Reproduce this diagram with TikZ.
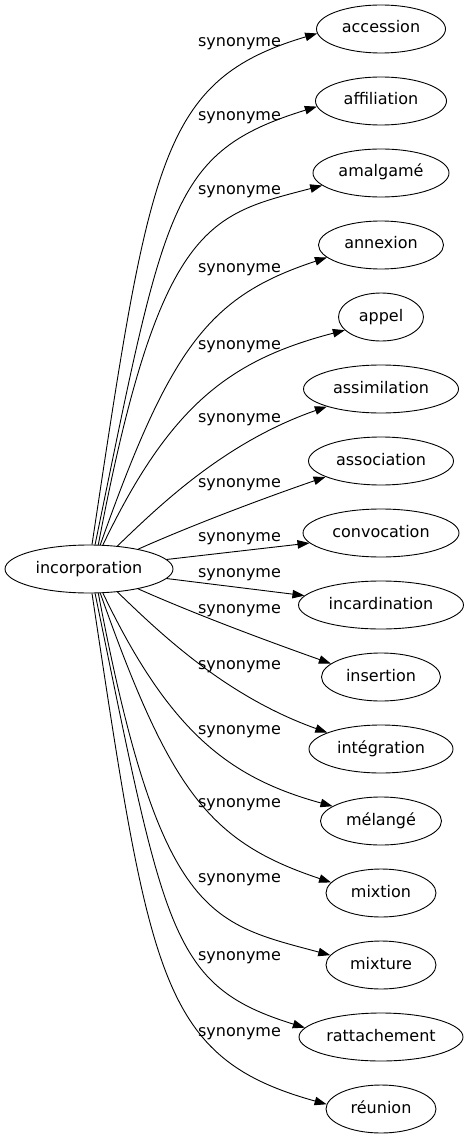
\documentclass[tikz,border=0pt]{standalone}
\usepackage{fontspec}
\setmainfont{DejaVu Sans}
\usetikzlibrary{arrows.meta,shapes.geometric}

\begin{document}
\begin{tikzpicture}[x=1pt,y=-1pt,>={Triangle[length=12pt,width=8.5pt]}]

%
% Styles
%
\tikzstyle{word} = [ellipse,draw,line width=0.9pt,inner xsep=0pt,inner ysep=0pt,minimum height=48pt,text height=11.5pt,text depth=3.5pt,font=\fontsize{16}{19}\selectfont]
\tikzstyle{rel} = [anchor=base,inner sep=0pt,font=\fontsize{16}{19}\selectfont]
\tikzstyle{link} = [->,line width=0.9pt]

\useasboundingbox (0,0) rectangle (469,1139);

\node[word,minimum width=168pt] (inc) at ( 89, 569) {incorporation};

\node[word,minimum width=129pt] (acc)    at (381,  29) {accession};
\node[word,minimum width=131pt] (aff)    at (381, 101) {affiliation};
\node[word,minimum width=136pt] (ama)    at (381, 173) {amalgamé};
\node[word,minimum width=125pt] (ann)    at (381, 245) {annexion};
\node[word,minimum width=85pt]  (app)    at (381, 317) {appel};
\node[word,minimum width=155pt] (ass)    at (381, 389) {assimilation};
\node[word,minimum width=145pt] (asso)   at (381, 461) {association};
\node[word,minimum width=156pt] (conv)   at (381, 533) {convocation};
\node[word,minimum width=165pt] (incard) at (381, 605) {incardination};
\node[word,minimum width=119pt] (ins)    at (381, 677) {insertion};
\node[word,minimum width=144pt] (integ)  at (381, 749) {intégration};
\node[word,minimum width=121pt] (mel)    at (381, 821) {mélangé};
\node[word,minimum width=110pt] (mixt)   at (381, 893) {mixtion};
\node[word,minimum width=110pt] (mixu)   at (381, 965) {mixture};
\node[word,minimum width=164pt] (ratt)   at (381,1037) {rattachement};
\node[word,minimum width=110pt] (reu)    at (381,1109) {réunion};

\node[rel] (s1)  at (239.5,  46.5) {synonyme};
\node[rel] (s2)  at (239.5, 120.5) {synonyme};
\node[rel] (s3)  at (239.5, 194.5) {synonyme};
\node[rel] (s4)  at (239.5, 272.5) {synonyme};
\node[rel] (s5)  at (239.5, 349.5) {synonyme};
\node[rel] (s6)  at (239.5, 422.5) {synonyme};
\node[rel] (s7)  at (239.5, 487.5) {synonyme};
\node[rel] (s8)  at (239.5, 541.5) {synonyme};
\node[rel] (s9)  at (239.5, 577.5) {synonyme};
\node[rel] (s10) at (239.5, 613.5) {synonyme};
\node[rel] (s11) at (239.5, 669.5) {synonyme};
\node[rel] (s12) at (239.5, 734.5) {synonyme};
\node[rel] (s13) at (239.5, 807.5) {synonyme};
\node[rel] (s14) at (239.5, 882.5) {synonyme};
\node[rel] (s15) at (239.5, 960.5) {synonyme};
\node[rel] (s16) at (239.5,1036.5) {synonyme};

\draw[link] (inc.83) .. controls (150,160) and (160,80) .. (acc.184);
\draw[link] (inc.76) .. controls (165,205) and (170,152) .. (aff.185);
\draw[link] (inc.69) .. controls (160,220) and (210,215) .. (ama.192);
\draw[link] (inc.65) .. controls (171,345) and (210,296) .. (ann.193);
\draw[link] (inc.60) .. controls (170,405) and (230,360) .. (app.200);
\draw[link] (inc.39) .. controls (160,505) and (225,442) .. (ass.198);
\draw[link] (inc.22) .. controls (197,523) and (270,496) .. (asso.196);
\draw[link] (inc.7) -- (conv.188);
\draw[link] (inc.-7) -- (incard.173);
\draw[link] (inc.-22) .. controls (197,615) and (270,642) .. (ins.165);
\draw[link] (inc.-39) .. controls (160,633) and (225,696) .. (integ.163);
\draw[link] (inc.-60) .. controls (170,733) and (230,778) .. (mel.163);
\draw[link] (inc.-65) .. controls (171,793) and (210,842) .. (mixt.168);
\draw[link] (inc.-69) .. controls (160,918) and (210,923) .. (mixu.169);
\draw[link] (inc.-76) .. controls (165,933) and (170,986) .. (ratt.173);
\draw[link] (inc.-83) .. controls (150,978) and (160,1058) .. (reu.175);

\end{tikzpicture}
\end{document}
